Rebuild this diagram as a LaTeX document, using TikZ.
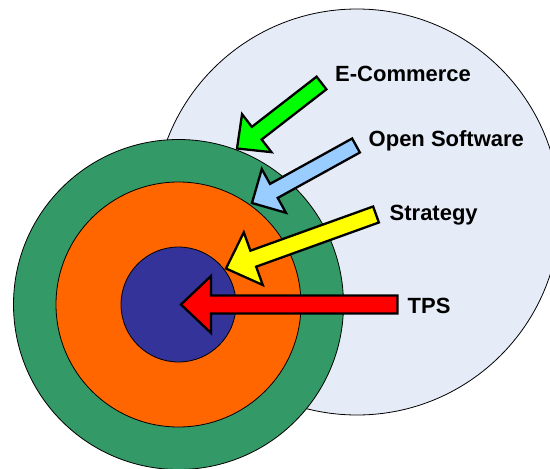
\documentclass[tikz,border=0pt]{standalone}
\usepackage{fontspec}
\setmainfont{Liberation Sans}
\usetikzlibrary{calc}

\definecolor{skyring}{RGB}{230,236,247}
\definecolor{ringgreen}{RGB}{51,153,102}
\definecolor{ringorange}{RGB}{255,102,0}
\definecolor{corenavy}{RGB}{51,51,153}
\definecolor{arrgreen}{RGB}{0,255,0}
\definecolor{arrblue}{RGB}{153,204,255}
\definecolor{arryellow}{RGB}{255,255,0}
\definecolor{arrred}{RGB}{255,0,0}

% block arrow: fill, tail, tip, shaft half-width, head half-width, head length
\newcommand\blockarrow[6]{%
  \path ($(#3)!#6!(#2)$) coordinate (hb);
  \draw[arrowline, fill=#1]
    ($(#2)!#4!90:(#3)$) -- ($(hb)!#4!90:(#3)$) -- ($(hb)!#5!90:(#3)$) -- (#3)
    -- ($(hb)!#5!-90:(#3)$) -- ($(hb)!#4!-90:(#3)$) -- ($(#2)!#4!-90:(#3)$) -- cycle;}

\begin{document}
\begin{tikzpicture}[x=1pt,y=-1pt,
  disc/.style={circle, draw=black, line width=0.8pt, inner sep=0pt},
  arrowline/.style={draw=black, line width=2.3pt, line join=miter, miter limit=10},
  lbl/.style={anchor=base west, inner sep=0pt, font=\fontsize{22}{26}\selectfont\bfseries}]
  \clip (0,0) rectangle (550,469);
  \useasboundingbox (0,0) rectangle (550,469);

  % background circle and concentric rings
  \node[disc, fill=skyring, minimum size=406pt] (outer) at (357,212) {};
  \node[disc, fill=ringgreen, minimum size=330pt] (ring1) at (178.5,304.5) {};
  \node[disc, fill=ringorange, minimum size=245pt] (ring2) at (178.5,304.5) {};
  \node[disc, fill=corenavy, minimum size=115pt] (core) at (178.5,304.5) {};

  % arrow ends
  \coordinate (gT) at (321.5,83);   \coordinate (gP) at (237,148.5);
  \coordinate (bT) at (356,145.5);  \coordinate (bP) at (252,203);
  \coordinate (yT) at (376,214.5);  \coordinate (yP) at (226,268.5);
  \coordinate (rT) at (397.5,304.5);\coordinate (rP) at (181,304.5);

  \blockarrow{arrgreen}{gT}{gP}{8pt}{24pt}{25pt}
  \blockarrow{arrblue}{bT}{bP}{8pt}{25pt}{25pt}
  \blockarrow{arryellow}{yT}{yP}{8.5pt}{28pt}{29pt}
  \blockarrow{arrred}{rT}{rP}{9pt}{28.5pt}{30pt}

  % labels
  \node[lbl] (lecom) at (335,81.7) {E-Commerce};
  \node[lbl] (lopen) at (368.5,146.7) {Open Software};
  \node[lbl] (lstrat) at (389.5,220.7) {Strategy};
  \node[lbl] (ltps) at (407.5,313.3) {TPS};
\end{tikzpicture}
\end{document}
